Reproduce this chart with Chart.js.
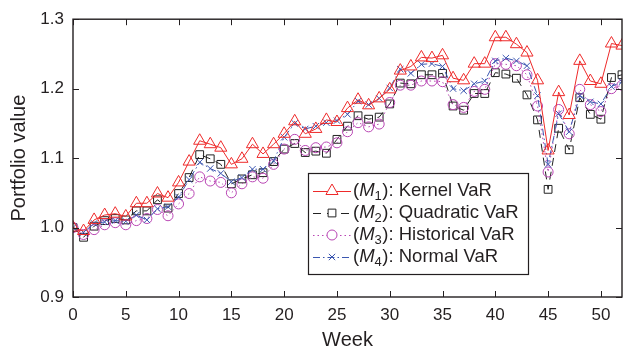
<!DOCTYPE html>
<html>
<head>
<meta charset="utf-8">
<script src="https://cdn.jsdelivr.net/npm/chart.js@4"></script>
<style>
  html, body { margin: 0; padding: 0; background: #fff; overflow: hidden; }
  #wrap { width: 630px; height: 350px; }
</style>
</head>
<body>
<div id="wrap"><canvas id="chart" width="630" height="350"></canvas></div>
<script>
const weeks = Array.from({length: 53}, (_, i) => i);
const xTicks = [0, 5, 10, 15, 20, 25, 30, 35, 40, 45, 50];
const yTicks = [0.9, 1.0, 1.1, 1.2, 1.3];

const methodNames = ['Kernel VaR', 'Quadratic VaR', 'Historical VaR', 'Normal VaR'];

const kernelVaR = [
  1.000, 0.995, 1.011, 1.018, 1.020, 1.016, 1.035, 1.035, 1.049, 1.043,
  1.065, 1.095, 1.125, 1.120, 1.115, 1.091, 1.099, 1.120, 1.106, 1.120,
  1.135, 1.153, 1.135, 1.142, 1.155, 1.152, 1.172, 1.184, 1.176, 1.186,
  1.199, 1.226, 1.232, 1.245, 1.244, 1.248, 1.215, 1.212, 1.236, 1.236,
  1.274, 1.274, 1.264, 1.252, 1.212, 1.111, 1.195, 1.162, 1.240, 1.211,
  1.207, 1.265, 1.262
];
const quadraticVaR = [
  1.000, 0.986, 1.002, 1.010, 1.013, 1.011, 1.024, 1.024, 1.040, 1.028,
  1.049, 1.072, 1.105, 1.099, 1.091, 1.063, 1.070, 1.076, 1.079, 1.095,
  1.113, 1.121, 1.108, 1.110, 1.107, 1.127, 1.146, 1.161, 1.156, 1.159,
  1.178, 1.208, 1.207, 1.220, 1.220, 1.222, 1.175, 1.169, 1.193, 1.193,
  1.223, 1.221, 1.215, 1.191, 1.155, 1.055, 1.143, 1.112, 1.187, 1.163,
  1.156, 1.216, 1.220
];
const historicalVaR = [
  1.000, 0.990, 0.997, 1.004, 1.007, 1.004, 1.010, 1.013, 1.026, 1.017,
  1.034, 1.049, 1.073, 1.067, 1.065, 1.050, 1.063, 1.073, 1.071, 1.091,
  1.113, 1.127, 1.111, 1.115, 1.116, 1.122, 1.138, 1.151, 1.145, 1.149,
  1.180, 1.205, 1.205, 1.211, 1.211, 1.210, 1.177, 1.173, 1.196, 1.199,
  1.236, 1.235, 1.233, 1.220, 1.175, 1.080, 1.170, 1.135, 1.199, 1.177,
  1.167, 1.200, 1.205
];
const normalVaR = [
  1.000, 0.993, 1.006, 1.008, 1.010, 1.009, 1.018, 1.011, 1.027, 1.030,
  1.044, 1.069, 1.094, 1.085, 1.078, 1.066, 1.072, 1.084, 1.084, 1.096,
  1.130, 1.150, 1.142, 1.146, 1.151, 1.154, 1.163, 1.182, 1.177, 1.186,
  1.201, 1.228, 1.222, 1.235, 1.236, 1.232, 1.200, 1.197, 1.207, 1.211,
  1.240, 1.244, 1.240, 1.233, 1.190, 1.091, 1.164, 1.138, 1.190, 1.181,
  1.178, 1.203, 1.210
];

const FONT = '"Liberation Sans", Arial, Helvetica, sans-serif';
const INK = '#231f20';

function series(label, values, color, style, radius, dash){
  return {
    label: label,
    data: weeks.map((w, i) => ({x: w, y: values[i]})),
    borderColor: color,
    backgroundColor: 'rgba(0,0,0,0)',
    borderWidth: 1,
    borderDash: dash,
    pointStyle: style,
    pointRadius: radius,
    pointBorderColor: color,
    pointBackgroundColor: 'rgba(0,0,0,0)',
    pointBorderWidth: 1,
    tension: 0
  };
}

const datasets = [
  series('1', kernelVaR, '#ee2a2a', 'triangle', 7, []),
  series('2', quadraticVaR, '#222222', 'rect', 5.5, [8, 6]),
  series('3', historicalVaR, '#b946b4', 'circle', 5, [1.5, 3]),
  series('4', normalVaR, '#3b56b0', 'crossRot', 4.5, [7, 3, 1.5, 3])
];
datasets[0].order = 0;
datasets[1].order = 3;
datasets[2].order = 2;
datasets[3].order = 1;

// box frame with inward ticks on all four sides
const framePlugin = {
  id: 'frame',
  afterDatasetsDraw(chart){
    const {ctx, chartArea: a, scales: {x, y}} = chart;
    ctx.save();
    ctx.strokeStyle = INK;
    ctx.lineWidth = 1.4;
    ctx.strokeRect(a.left, a.top, a.right - a.left, a.bottom - a.top);
    ctx.lineWidth = 1;
    ctx.beginPath();
    xTicks.forEach(v => {
      const px = Math.round(x.getPixelForValue(v)) + 0.5;
      ctx.moveTo(px, a.bottom); ctx.lineTo(px, a.bottom - 6);
      ctx.moveTo(px, a.top); ctx.lineTo(px, a.top + 6);
    });
    yTicks.forEach(v => {
      const py = Math.round(y.getPixelForValue(v)) + 0.5;
      ctx.moveTo(a.left, py); ctx.lineTo(a.left + 6, py);
      ctx.moveTo(a.right, py); ctx.lineTo(a.right - 6, py);
    });
    ctx.stroke();
    ctx.restore();
  }
};

// legend box: "(M_k): name" with line sample and marker
const legendPlugin = {
  id: 'methodLegend',
  afterDraw(chart){
    const ctx = chart.ctx;
    const box = {left: 308, top: 173, right: 528, bottom: 274};
    ctx.save();
    ctx.fillStyle = '#fff';
    ctx.fillRect(box.left, box.top, box.right - box.left, box.bottom - box.top);
    ctx.strokeStyle = INK;
    ctx.lineWidth = 1.2;
    ctx.strokeRect(box.left + 0.5, box.top + 0.5, box.right - box.left, box.bottom - box.top);

    chart.data.datasets.forEach((ds, i) => {
      const cy = 191 + i * 22;
      ctx.save();
      ctx.strokeStyle = ds.borderColor;
      ctx.lineWidth = 1;
      ctx.setLineDash(ds.borderDash);
      ctx.beginPath();
      ctx.moveTo(313, cy + 0.5);
      ctx.lineTo(351, cy + 0.5);
      ctx.stroke();
      ctx.setLineDash([]);
      ctx.fillStyle = '#fff';
      Chart.helpers.drawPoint(ctx, {pointStyle: ds.pointStyle, radius: ds.pointRadius, borderWidth: 1}, 332, cy);
      ctx.restore();

      ctx.fillStyle = INK;
      ctx.textBaseline = 'middle';
      let tx = 353;
      const normal = '18.5px ' + FONT;
      const italic = 'italic 18.5px ' + FONT;
      const small = '13px ' + FONT;
      ctx.font = normal;
      ctx.fillText('(', tx, cy);
      tx += ctx.measureText('(').width;
      ctx.font = italic;
      ctx.fillText('M', tx, cy);
      tx += ctx.measureText('M').width;
      ctx.font = small;
      ctx.fillText(ds.label, tx, cy + 5);
      tx += ctx.measureText(ds.label).width + 0.5;
      ctx.font = normal;
      ctx.fillText('): ' + methodNames[i], tx, cy);
    });
    ctx.restore();
  }
};

new Chart(document.getElementById('chart'), {
  type: 'line',
  data: {datasets: datasets},
  options: {
    responsive: false,
    animation: false,
    devicePixelRatio: 1,
    layout: {padding: {top: 19, right: 4, left: 0, bottom: 0}},
    plugins: {legend: {display: false}, tooltip: {enabled: false}},
    scales: {
      x: {
        type: 'linear',
        min: 0,
        max: 52,
        afterBuildTicks: s => { s.ticks = xTicks.map(v => ({value: v})); },
        afterFit: s => { s.height = 53; },
        grid: {display: false, drawTicks: false},
        border: {display: false},
        ticks: {padding: 8, color: INK, font: {family: FONT, size: 17}, maxRotation: 0},
        title: {display: true, text: 'Week', color: INK, padding: {top: 0, bottom: 0},
                font: {family: FONT, size: 20, lineHeight: 1}}
      },
      y: {
        min: 0.9,
        max: 1.3,
        afterBuildTicks: s => { s.ticks = yTicks.map(v => ({value: v})); },
        afterFit: s => { s.width = 73; },
        grid: {display: false, drawTicks: false},
        border: {display: false},
        ticks: {padding: 9, color: INK, font: {family: FONT, size: 17}, callback: v => v.toFixed(1)},
        title: {display: true, text: 'Portfolio value', color: INK, padding: {top: 9, bottom: 0},
                font: {family: FONT, size: 20, lineHeight: 1}}
      }
    }
  },
  plugins: [framePlugin, legendPlugin]
});
</script>
</body>
</html>
